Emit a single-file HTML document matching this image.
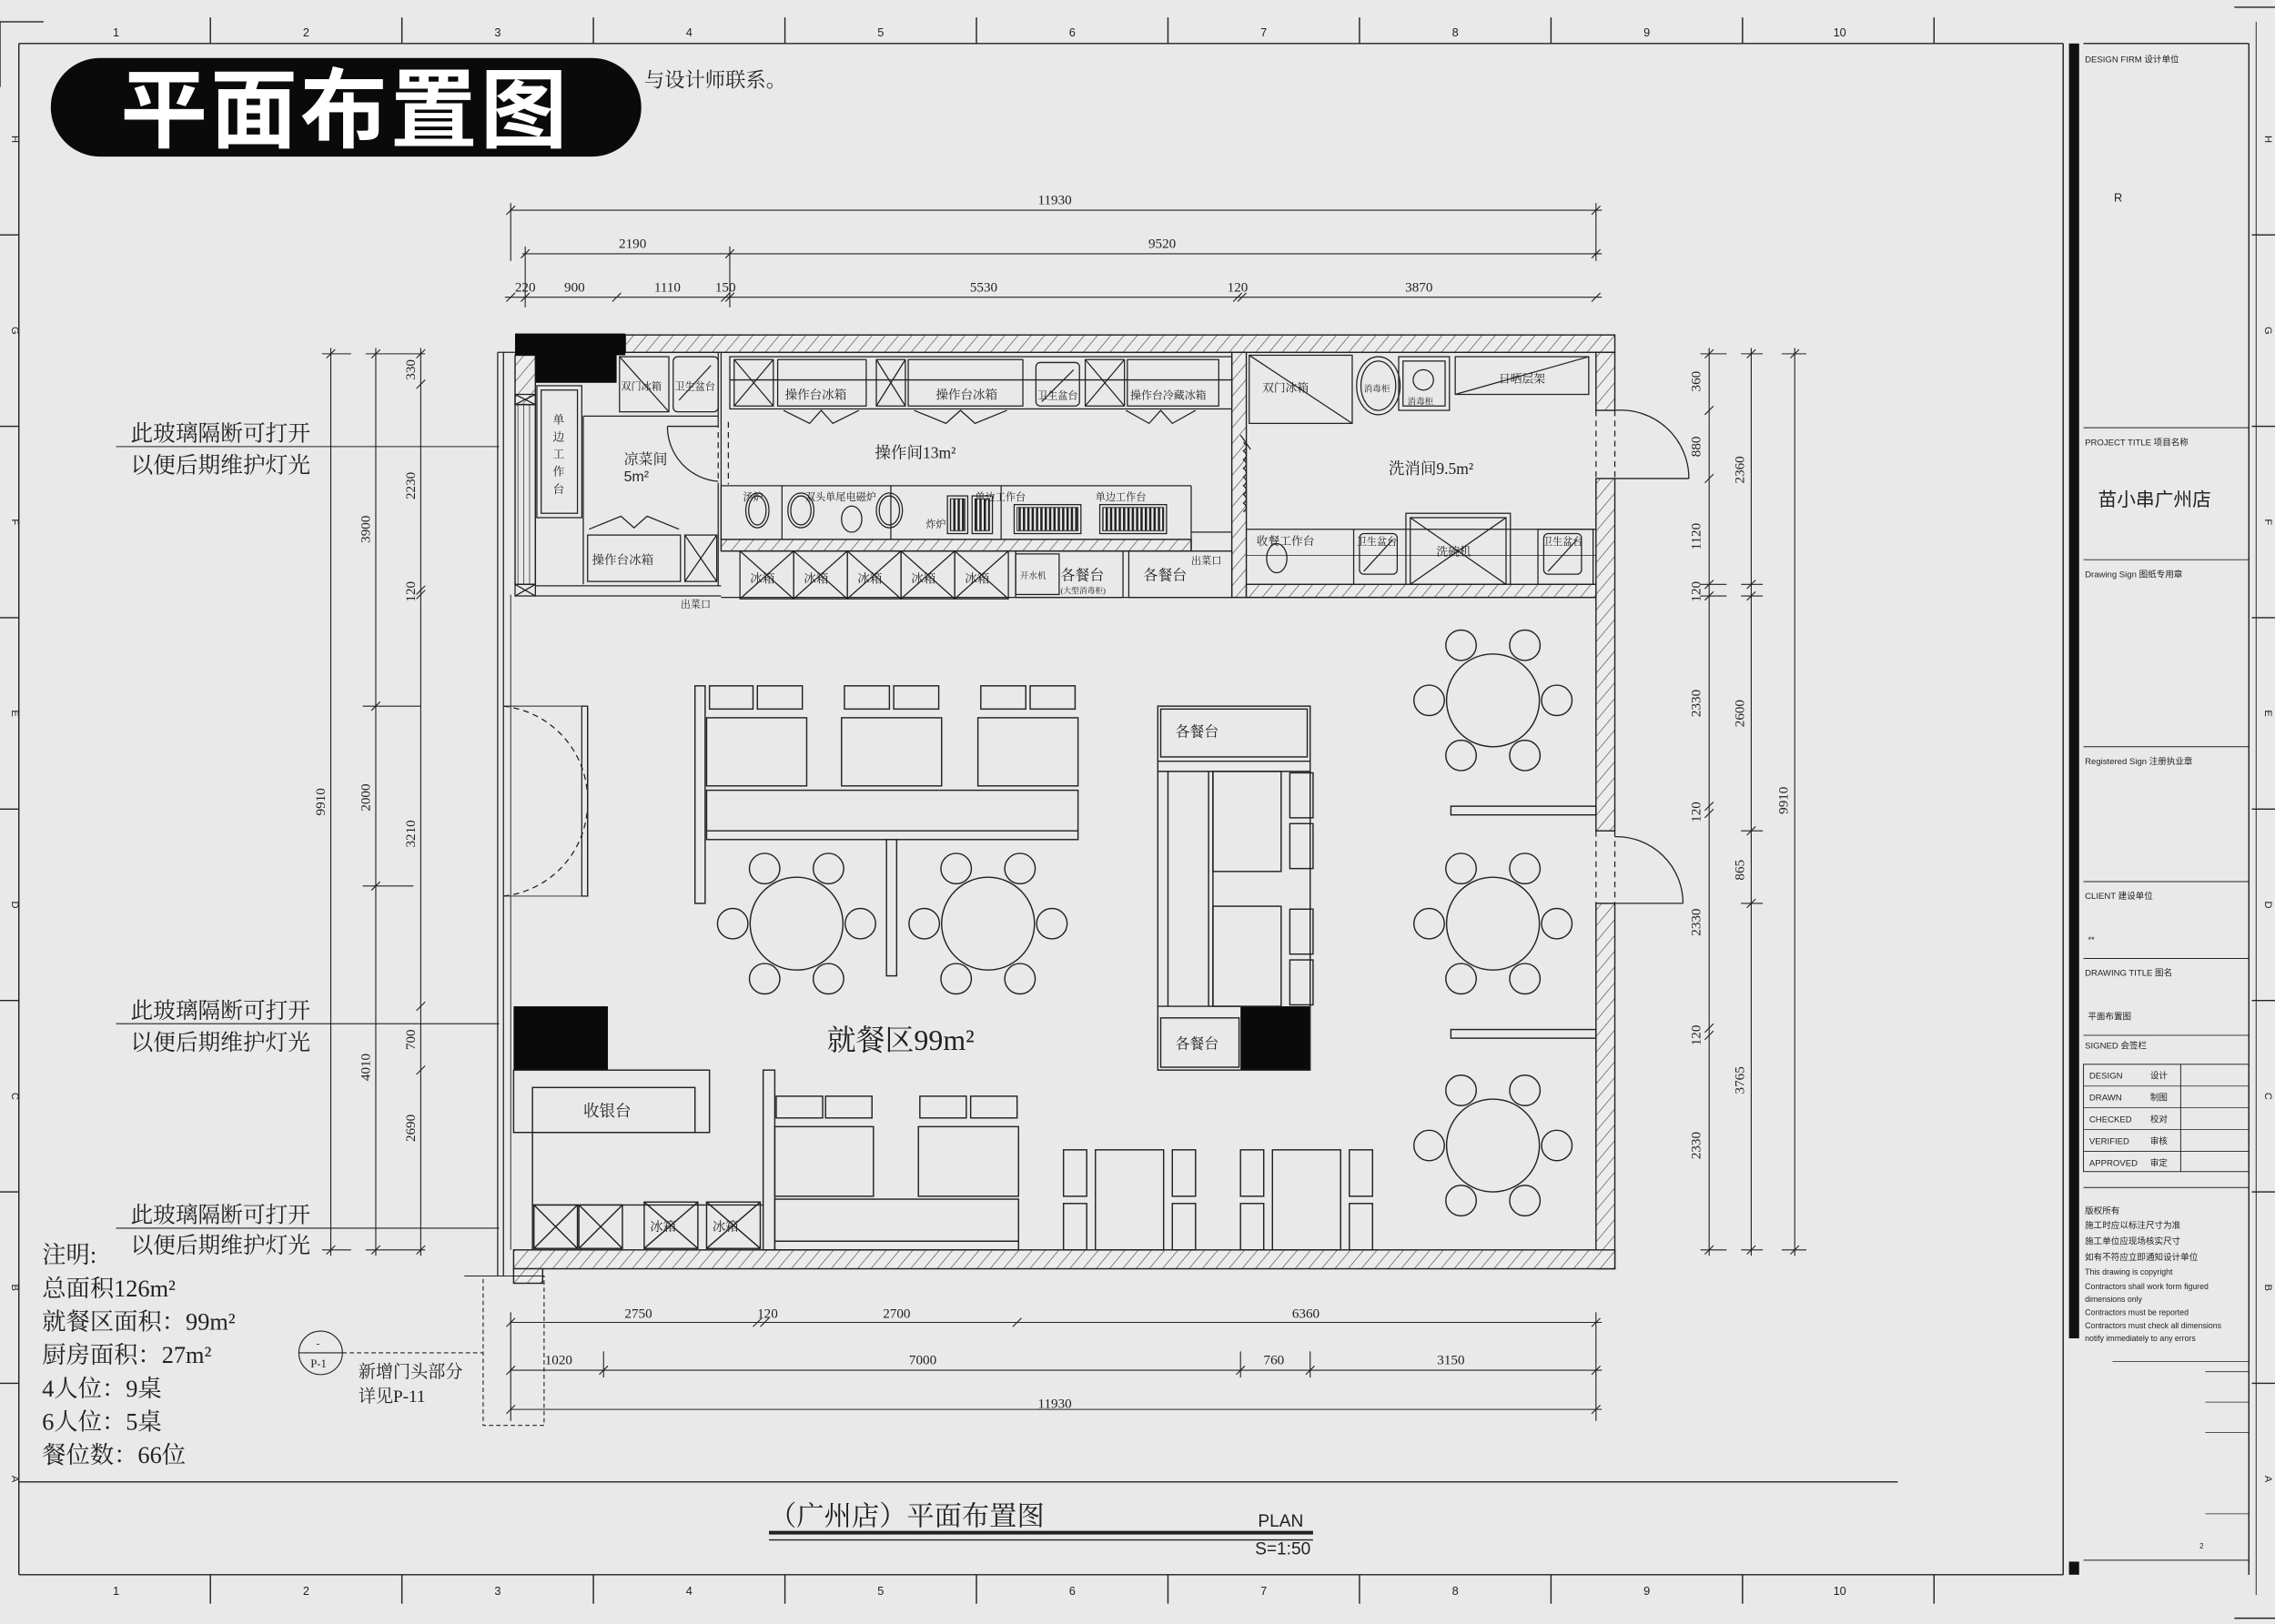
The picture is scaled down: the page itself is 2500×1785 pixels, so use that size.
<!DOCTYPE html>
<html><head><meta charset="utf-8"><style>
html,body{margin:0;padding:0;background:#e9e9e9;}
svg{display:block;}
.s{font-family:"Liberation Serif","Noto Serif CJK SC",serif;fill:#222;}
.a{font-family:"Liberation Sans","Noto Sans CJK SC",sans-serif;fill:#222;}
</style></head><body>
<svg width="2500" height="1785" viewBox="0 0 1568 1120" preserveAspectRatio="none" xmlns="http://www.w3.org/2000/svg">
<defs>
<pattern id="h" width="7" height="7" patternUnits="userSpaceOnUse" patternTransform="rotate(40)"><rect width="7" height="7" fill="#ececec"/><line x1="0" y1="0" x2="0" y2="7" stroke="#333" stroke-width="0.7"/></pattern>
<pattern id="v" width="4" height="10" patternUnits="userSpaceOnUse"><line x1="1" y1="0" x2="1" y2="10" stroke="#333" stroke-width="0.5"/></pattern>
<pattern id="g" width="3" height="10" patternUnits="userSpaceOnUse"><rect width="3" height="10" fill="#eee"/><rect width="1.6" height="10" fill="#222"/></pattern>
</defs>
<rect width="1568" height="1120" fill="#e9e9e9"/>
<g stroke="#222" fill="none" stroke-width="0.9">
<!-- frame -->
<line x1="13" y1="30" x2="1422" y2="30"/>
<line x1="13" y1="30" x2="13" y2="1086"/>
<line x1="13" y1="1086" x2="1422" y2="1086"/>
<line x1="0" y1="15" x2="30" y2="15"/><line x1="0" y1="15" x2="0" y2="60"/>
<g>
<line x1="145" y1="12" x2="145" y2="30"/><line x1="277" y1="12" x2="277" y2="30"/><line x1="409" y1="12" x2="409" y2="30"/><line x1="541" y1="12" x2="541" y2="30"/><line x1="673" y1="12" x2="673" y2="30"/><line x1="805" y1="12" x2="805" y2="30"/><line x1="937" y1="12" x2="937" y2="30"/><line x1="1069" y1="12" x2="1069" y2="30"/><line x1="1201" y1="12" x2="1201" y2="30"/><line x1="1333" y1="12" x2="1333" y2="30"/>
<line x1="145" y1="1086" x2="145" y2="1106"/><line x1="277" y1="1086" x2="277" y2="1106"/><line x1="409" y1="1086" x2="409" y2="1106"/><line x1="541" y1="1086" x2="541" y2="1106"/><line x1="673" y1="1086" x2="673" y2="1106"/><line x1="805" y1="1086" x2="805" y2="1106"/><line x1="937" y1="1086" x2="937" y2="1106"/><line x1="1069" y1="1086" x2="1069" y2="1106"/><line x1="1201" y1="1086" x2="1201" y2="1106"/><line x1="1333" y1="1086" x2="1333" y2="1106"/>
<line x1="0" y1="162" x2="13" y2="162"/><line x1="0" y1="294" x2="13" y2="294"/><line x1="0" y1="426" x2="13" y2="426"/><line x1="0" y1="558" x2="13" y2="558"/><line x1="0" y1="690" x2="13" y2="690"/><line x1="0" y1="822" x2="13" y2="822"/><line x1="0" y1="954" x2="13" y2="954"/>
<line x1="1552" y1="162" x2="1568" y2="162"/><line x1="1552" y1="294" x2="1568" y2="294"/><line x1="1552" y1="426" x2="1568" y2="426"/><line x1="1552" y1="558" x2="1568" y2="558"/><line x1="1552" y1="690" x2="1568" y2="690"/><line x1="1552" y1="822" x2="1568" y2="822"/><line x1="1552" y1="954" x2="1568" y2="954"/>
<line x1="1540" y1="5" x2="1568" y2="5"/><line x1="1540" y1="1116" x2="1568" y2="1116"/>
</g>
<line x1="13" y1="1022" x2="1308" y2="1022"/>
<!-- title block -->
<line x1="1422" y1="30" x2="1422" y2="1086"/>
<line x1="1436" y1="30" x2="1550" y2="30"/>
<line x1="1550" y1="30" x2="1550" y2="1086"/>
<line x1="1555" y1="15" x2="1555" y2="1100" stroke-width="0.6"/>
<line x1="1436" y1="295" x2="1550" y2="295" stroke-width="0.6"/>
<line x1="1436" y1="386" x2="1550" y2="386" stroke-width="0.6"/>
<line x1="1436" y1="515" x2="1550" y2="515" stroke-width="0.6"/>
<line x1="1436" y1="608" x2="1550" y2="608" stroke-width="0.6"/>
<line x1="1436" y1="661" x2="1550" y2="661" stroke-width="0.6"/>
<line x1="1436" y1="714" x2="1550" y2="714" stroke-width="0.6"/>
<rect x="1436" y="734" width="114" height="74" stroke-width="0.6"/>
<line x1="1436" y1="749" x2="1550" y2="749" stroke-width="0.5"/><line x1="1436" y1="764" x2="1550" y2="764" stroke-width="0.5"/><line x1="1436" y1="779" x2="1550" y2="779" stroke-width="0.5"/><line x1="1436" y1="794" x2="1550" y2="794" stroke-width="0.5"/>
<line x1="1503" y1="734" x2="1503" y2="808" stroke-width="0.6"/>
<line x1="1436" y1="819" x2="1550" y2="819" stroke-width="0.6"/>
<line x1="1436" y1="1076" x2="1550" y2="1076" stroke-width="0.6"/>
<line x1="1456" y1="939" x2="1550" y2="939" stroke-width="0.5"/><line x1="1520" y1="946" x2="1550" y2="946" stroke-width="0.5"/><line x1="1520" y1="967" x2="1550" y2="967" stroke-width="0.5"/><line x1="1520" y1="988" x2="1550" y2="988" stroke-width="0.5"/><line x1="1520" y1="1044" x2="1550" y2="1044" stroke-width="0.5"/>
</g>
<rect x="1426" y="30" width="7" height="893" fill="#111"/>
<rect x="1426" y="1077" width="7" height="9" fill="#111"/>
<g class="a" font-size="6">
<text x="1437" y="43">DESIGN FIRM  设计单位</text>
<text x="1457" y="139" font-size="8">R</text>
<text x="1437" y="307">PROJECT TITLE  项目名称</text>
<text x="1446" y="349" font-size="13">苗小串广州店</text>
<text x="1437" y="398">Drawing Sign  图纸专用章</text>
<text x="1437" y="527">Registered Sign  注册执业章</text>
<text x="1437" y="620">CLIENT  建设单位</text>
<text x="1439" y="650">**</text>
<text x="1437" y="673">DRAWING TITLE  图名</text>
<text x="1439" y="703">平面布置图</text>
<text x="1437" y="723">SIGNED  会签栏</text>
<text x="1440" y="744">DESIGN</text><text x="1482" y="744">设计</text>
<text x="1440" y="759">DRAWN</text><text x="1482" y="759">制图</text>
<text x="1440" y="774">CHECKED</text><text x="1482" y="774">校对</text>
<text x="1440" y="789">VERIFIED</text><text x="1482" y="789">审核</text>
<text x="1440" y="804">APPROVED</text><text x="1482" y="804">审定</text>
<text x="1437" y="837">版权所有</text>
<text x="1437" y="847">施工时应以标注尺寸为准</text>
<text x="1437" y="858">施工单位应现场核实尺寸</text>
<text x="1437" y="869">如有不符应立即通知设计单位</text>
<text x="1437" y="879" font-size="5.5">This drawing is copyright</text>
<text x="1437" y="889" font-size="5.5">Contractors shall work form figured</text>
<text x="1437" y="898" font-size="5.5">dimensions only</text>
<text x="1437" y="907" font-size="5.5">Contractors must be reported</text>
<text x="1437" y="916" font-size="5.5">Contractors must check all dimensions</text>
<text x="1437" y="925" font-size="5.5">notify immediately to any errors</text>
<text x="1516" y="1068" font-size="5">2</text>
</g>
<g class="a" font-size="8" text-anchor="middle">
<text x="80" y="25">1</text><text x="211" y="25">2</text><text x="343" y="25">3</text><text x="475" y="25">4</text><text x="607" y="25">5</text><text x="739" y="25">6</text><text x="871" y="25">7</text><text x="1003" y="25">8</text><text x="1135" y="25">9</text><text x="1268" y="25">10</text>
<text x="80" y="1100">1</text><text x="211" y="1100">2</text><text x="343" y="1100">3</text><text x="475" y="1100">4</text><text x="607" y="1100">5</text><text x="739" y="1100">6</text><text x="871" y="1100">7</text><text x="1003" y="1100">8</text><text x="1135" y="1100">9</text><text x="1268" y="1100">10</text>
</g>
<g class="a" font-size="7" text-anchor="middle">
<text transform="translate(8,96) rotate(90)">H</text><text transform="translate(8,228) rotate(90)">G</text><text transform="translate(8,360) rotate(90)">F</text><text transform="translate(8,492) rotate(90)">E</text><text transform="translate(8,624) rotate(90)">D</text><text transform="translate(8,756) rotate(90)">C</text><text transform="translate(8,888) rotate(90)">B</text><text transform="translate(8,1020) rotate(90)">A</text>
<text transform="translate(1561,96) rotate(90)">H</text><text transform="translate(1561,228) rotate(90)">G</text><text transform="translate(1561,360) rotate(90)">F</text><text transform="translate(1561,492) rotate(90)">E</text><text transform="translate(1561,624) rotate(90)">D</text><text transform="translate(1561,756) rotate(90)">C</text><text transform="translate(1561,888) rotate(90)">B</text><text transform="translate(1561,1020) rotate(90)">A</text>
</g>

<!-- title pill -->
<text class="s" x="444" y="60" font-size="14">与设计师联系。</text>
<rect x="35" y="40" width="407" height="68" rx="34" fill="#0a0a0a"/>
<text x="238" y="97" text-anchor="middle" font-family="'Noto Sans CJK SC','WenQuanYi Zen Hei',sans-serif" font-weight="bold" font-size="60" fill="#fff" letter-spacing="2">平面布置图</text>

<!-- walls -->
<g stroke="#222" stroke-width="0.9">
<rect x="431" y="231" width="682" height="12" fill="url(#h)"/>
<rect x="1100" y="243" width="13" height="40" fill="url(#h)"/>
<rect x="1100" y="330" width="13" height="243" fill="url(#h)"/>
<rect x="1100" y="623" width="13" height="252" fill="url(#h)"/>
<rect x="354" y="862" width="759" height="13" fill="url(#h)"/>
<rect x="849" y="243" width="10" height="169" fill="url(#h)"/>
<rect x="497" y="372" width="324" height="8" fill="url(#h)"/>
<rect x="859" y="403" width="241" height="9" fill="url(#h)"/>
<rect x="355" y="245" width="14" height="34" fill="url(#h)"/>
<rect x="355" y="279" width="14" height="124" fill="url(#v)"/>
<rect x="354" y="875" width="20" height="10" fill="url(#h)"/>
</g>
<rect x="355" y="230" width="76" height="15" fill="#0a0a0a"/>
<rect x="369" y="244" width="56" height="20" fill="#0a0a0a"/>
<rect x="354" y="694" width="65" height="44" fill="#0a0a0a"/>
<rect x="855" y="694" width="48" height="44" fill="#0a0a0a"/>
<g stroke="#222" fill="none" stroke-width="0.8">
<!-- door gaps right -->
<line x1="1100" y1="283" x2="1100" y2="330" stroke-dasharray="4,3"/><line x1="1113" y1="283" x2="1113" y2="330" stroke-dasharray="4,3"/>
<line x1="1100" y1="573" x2="1100" y2="623" stroke-dasharray="4,3"/><line x1="1113" y1="573" x2="1113" y2="623" stroke-dasharray="4,3"/>
<line x1="1113" y1="330" x2="1164" y2="330"/><path d="M1113,283 A47,47 0 0 1 1164,330"/>
<line x1="1113" y1="623" x2="1160" y2="623"/><path d="M1113,577 A46,46 0 0 1 1160,623"/>
<!-- glass left -->
<line x1="343" y1="243" x2="343" y2="880"/><line x1="347" y1="243" x2="347" y2="880"/><line x1="343" y1="243" x2="355" y2="243"/>
<line x1="352" y1="410" x2="352" y2="862" stroke-width="0.6"/>
<!-- left doors -->
<line x1="347" y1="487" x2="405" y2="487" stroke-width="0.6"/><line x1="347" y1="618" x2="405" y2="618" stroke-width="0.6"/>
<path d="M347,487 A65,65 0 0 1 405,552" stroke-dasharray="4,3"/><path d="M347,618 A65,65 0 0 0 405,552" stroke-dasharray="4,3"/>
<line x1="405" y1="487" x2="405" y2="552"/><line x1="405" y1="552" x2="405" y2="618"/>
<rect x="401" y="487" width="4" height="131"/>
<!-- left X boxes -->
<rect x="355" y="272" width="14" height="7"/><path d="M355,272 L369,279 M369,272 L355,279"/>
<rect x="355" y="403" width="14" height="8"/><path d="M355,403 L369,411 M369,403 L355,411"/>
<line x1="369" y1="404" x2="497" y2="404"/><line x1="369" y1="411" x2="497" y2="411"/>

<!-- cold room -->
<rect x="370" y="266" width="31" height="91"/><rect x="373" y="269" width="25" height="85"/>
<rect x="427" y="246" width="34" height="38"/><line x1="427" y1="246" x2="461" y2="284"/>
<rect x="464" y="246" width="31" height="38" rx="3"/><line x1="468" y1="276" x2="490" y2="252"/>
<line x1="402" y1="287" x2="495" y2="287"/><line x1="402" y1="287" x2="402" y2="403"/>
<line x1="495" y1="243" x2="495" y2="291"/><line x1="495" y1="334" x2="495" y2="404"/>
<line x1="495" y1="291" x2="495" y2="334" stroke-dasharray="4,3"/><line x1="502" y1="291" x2="502" y2="334" stroke-dasharray="4,3"/>
<line x1="460" y1="294" x2="495" y2="294"/><path d="M460,294 A38,38 0 0 0 495,332"/>
<rect x="405" y="369" width="64" height="32"/><rect x="472" y="369" width="22" height="32"/><path d="M472,369 L494,401 M494,369 L472,401"/>
<path d="M406,365 L428,356 L437,364 L446,356 L468,365"/>

<!-- op room top cabinets -->
<line x1="497" y1="243" x2="497" y2="372"/>
<rect x="503" y="246" width="346" height="36"/>
<line x1="503" y1="262" x2="849" y2="262"/>
<rect x="506" y="248" width="27" height="32"/><path d="M506,248 L533,280 M533,248 L506,280"/>
<rect x="536" y="248" width="61" height="32"/>
<rect x="604" y="248" width="20" height="32"/><path d="M604,248 L624,280 M624,248 L604,280"/>
<rect x="626" y="248" width="79" height="32"/>
<rect x="714" y="250" width="30" height="30" rx="3"/><line x1="718" y1="277" x2="740" y2="255"/>
<rect x="748" y="248" width="27" height="32"/><path d="M748,248 L775,280 M775,248 L748,280"/>
<rect x="777" y="248" width="63" height="32"/>
<path d="M540,283 L558,292 L566,283 L574,292 L592,283"/>
<path d="M630,283 L652,292 L662,283 L672,292 L694,283"/>
<path d="M776,283 L792,292 L800,283 L808,292 L824,283"/>
<!-- op room stove row -->
<line x1="497" y1="335" x2="821" y2="335"/><line x1="497" y1="335" x2="497" y2="372"/>
<line x1="539" y1="335" x2="539" y2="372"/><line x1="614" y1="335" x2="614" y2="372"/><line x1="690" y1="335" x2="690" y2="372"/>
<ellipse cx="522" cy="352" rx="8" ry="12"/><ellipse cx="522" cy="352" rx="6" ry="10"/>
<ellipse cx="552" cy="352" rx="9" ry="12"/><ellipse cx="552" cy="352" rx="7" ry="10"/>
<ellipse cx="587" cy="358" rx="7" ry="9"/><ellipse cx="613" cy="352" rx="9" ry="12"/><ellipse cx="613" cy="352" rx="7" ry="10"/>
<rect x="653" y="342" width="14" height="26"/><rect x="670" y="342" width="14" height="26"/>
<rect x="699" y="348" width="46" height="20"/><rect x="758" y="348" width="46" height="20"/>
<line x1="821" y1="335" x2="821" y2="380"/><line x1="821" y1="367" x2="849" y2="367"/>
<!-- fridges row -->
<line x1="497" y1="380" x2="849" y2="380"/><line x1="497" y1="412" x2="1100" y2="412"/>
<rect x="510" y="380" width="37" height="33"/><path d="M510,380 L547,413 M547,380 L510,413"/>
<rect x="547" y="380" width="37" height="33"/><path d="M547,380 L584,413 M584,380 L547,413"/>
<rect x="584" y="380" width="37" height="33"/><path d="M584,380 L621,413 M621,380 L584,413"/>
<rect x="621" y="380" width="37" height="33"/><path d="M621,380 L658,413 M658,380 L621,413"/>
<rect x="658" y="380" width="37" height="33"/><path d="M658,380 L695,413 M695,380 L658,413"/>
<rect x="700" y="382" width="30" height="28"/><rect x="700" y="380" width="74" height="32"/><rect x="778" y="380" width="71" height="32"/>
<!-- wash room -->
<rect x="861" y="245" width="71" height="47"/><line x1="861" y1="245" x2="932" y2="292"/>
<ellipse cx="950" cy="266" rx="15" ry="20"/><ellipse cx="950" cy="266" rx="12" ry="17"/>
<rect x="964" y="246" width="35" height="37"/><rect x="967" y="249" width="29" height="31"/><circle cx="981" cy="262" r="7"/>
<rect x="1003" y="246" width="92" height="26"/><line x1="1003" y1="272" x2="1095" y2="246"/>
<line x1="855" y1="300" x2="862" y2="310"/>
<path d="M857,305 q4,3 0,6 q4,3 0,6 q4,3 0,6 q4,3 0,6 q4,3 0,6 q4,3 0,6 q4,3 0,6 q4,3 0,6" />
<line x1="859" y1="365" x2="1100" y2="365"/><line x1="859" y1="383" x2="1100" y2="383" stroke-width="0.5"/>
<ellipse cx="880" cy="385" rx="7" ry="10"/>
<line x1="933" y1="365" x2="933" y2="403"/>
<rect x="937" y="368" width="26" height="28" rx="3"/><line x1="940" y1="394" x2="960" y2="372"/>
<rect x="969" y="354" width="72" height="49"/><rect x="972" y="357" width="66" height="46"/><path d="M972,357 L1038,403 M1038,357 L972,403"/>
<rect x="1060" y="365" width="38" height="38"/><rect x="1064" y="368" width="26" height="28" rx="3"/><line x1="1067" y1="394" x2="1087" y2="372"/>
</g>
<g fill="url(#g)" stroke="#222" stroke-width="0.6"><rect x="655" y="344" width="10" height="22"/><rect x="672" y="344" width="10" height="22"/><rect x="701" y="350" width="42" height="16"/><rect x="760" y="350" width="42" height="16"/></g>
<!-- kitchen text -->
<g class="s" font-size="8.5">
<text x="430" y="320" font-size="10">凉菜间</text><text x="430" y="332" font-size="10" class="a">5m²</text>
<text x="603" y="316" font-size="11">操作间13m²</text>
<text x="957" y="327" font-size="11">洗消间9.5m²</text>
<text x="381" y="292" font-size="8">单</text><text x="381" y="304" font-size="8">边</text><text x="381" y="316" font-size="8">工</text><text x="381" y="328" font-size="8">作</text><text x="381" y="340" font-size="8">台</text>
<text x="408" y="389">操作台冰箱</text>
<text x="428" y="269" font-size="7">双门冰箱</text><text x="465" y="269" font-size="7">卫生盆台</text>
<text x="541" y="275">操作台冰箱</text><text x="645" y="275">操作台冰箱</text><text x="715" y="275" font-size="7">卫生盆台</text><text x="779" y="275" font-size="7.5">操作台冷藏冰箱</text>
<text x="512" y="345" font-size="7">汤炉</text><text x="555" y="345" font-size="7">双头单尾电磁炉</text><text x="672" y="345" font-size="7">单边工作台</text><text x="755" y="345" font-size="7">单边工作台</text>
<text x="638" y="364" font-size="7">炸炉</text>
<text x="517" y="402">冰箱</text><text x="554" y="402">冰箱</text><text x="591" y="402">冰箱</text><text x="628" y="402">冰箱</text><text x="665" y="402">冰箱</text>
<text x="703" y="399" font-size="6">开水机</text><text x="731" y="400" font-size="10">各餐台</text><text x="788" y="400" font-size="10">各餐台</text>
<text x="731" y="409" font-size="5.5">(大型消毒柜)</text>
<text x="821" y="389" font-size="7">出菜口</text><text x="469" y="419" font-size="7">出菜口</text>
<text x="870" y="270" font-size="8">双门冰箱</text><text x="940" y="270" font-size="6">消毒柜</text><text x="970" y="279" font-size="6">消毒柜</text><text x="1033" y="264" font-size="8">日晒层架</text>
<text x="866" y="376" font-size="8">收餐工作台</text><text x="935" y="376" font-size="7">卫生盆台</text><text x="990" y="383" font-size="8">洗碗机</text><text x="1063" y="376" font-size="7">卫生盆台</text>
</g>

<!-- dining -->
<g stroke="#222" fill="none" stroke-width="0.9">
<rect x="479" y="473" width="7" height="150"/>
<rect x="489" y="473" width="30" height="16"/><rect x="522" y="473" width="31" height="16"/>
<rect x="582" y="473" width="31" height="16"/><rect x="616" y="473" width="31" height="16"/>
<rect x="676" y="473" width="31" height="16"/><rect x="710" y="473" width="31" height="16"/>
<rect x="487" y="495" width="69" height="47"/><rect x="580" y="495" width="69" height="47"/><rect x="674" y="495" width="69" height="47"/>
<rect x="487" y="545" width="256" height="34"/><line x1="487" y1="573" x2="743" y2="573"/>
<rect x="611" y="579" width="7" height="94"/>
<circle cx="549" cy="637" r="32"/><circle cx="681" cy="637" r="32"/>
<circle cx="527" cy="599" r="10.5"/><circle cx="571" cy="599" r="10.5"/><circle cx="505" cy="637" r="10.5"/><circle cx="593" cy="637" r="10.5"/><circle cx="527" cy="675" r="10.5"/><circle cx="571" cy="675" r="10.5"/>
<circle cx="659" cy="599" r="10.5"/><circle cx="703" cy="599" r="10.5"/><circle cx="637" cy="637" r="10.5"/><circle cx="725" cy="637" r="10.5"/><circle cx="659" cy="675" r="10.5"/><circle cx="703" cy="675" r="10.5"/>
<!-- right round tables -->
<circle cx="1029" cy="483" r="32"/><circle cx="1007" cy="445" r="10.5"/><circle cx="1051" cy="445" r="10.5"/><circle cx="985" cy="483" r="10.5"/><circle cx="1073" cy="483" r="10.5"/><circle cx="1007" cy="521" r="10.5"/><circle cx="1051" cy="521" r="10.5"/>
<circle cx="1029" cy="637" r="32"/><circle cx="1007" cy="599" r="10.5"/><circle cx="1051" cy="599" r="10.5"/><circle cx="985" cy="637" r="10.5"/><circle cx="1073" cy="637" r="10.5"/><circle cx="1007" cy="675" r="10.5"/><circle cx="1051" cy="675" r="10.5"/>
<circle cx="1029" cy="790" r="32"/><circle cx="1007" cy="752" r="10.5"/><circle cx="1051" cy="752" r="10.5"/><circle cx="985" cy="790" r="10.5"/><circle cx="1073" cy="790" r="10.5"/><circle cx="1007" cy="828" r="10.5"/><circle cx="1051" cy="828" r="10.5"/>
<rect x="1000" y="556" width="100" height="6"/><rect x="1000" y="710" width="100" height="6"/>
<!-- island -->
<rect x="798" y="487" width="105" height="251"/>
<rect x="800" y="489" width="101" height="33"/><line x1="798" y1="525" x2="903" y2="525"/><line x1="798" y1="532" x2="903" y2="532"/>
<line x1="805" y1="532" x2="805" y2="694"/><line x1="833" y1="532" x2="833" y2="694"/><line x1="836" y1="532" x2="836" y2="694"/>
<rect x="836" y="532" width="47" height="69"/><rect x="836" y="625" width="47" height="69"/>
<rect x="889" y="533" width="16" height="31"/><rect x="889" y="568" width="16" height="31"/><rect x="889" y="627" width="16" height="31"/><rect x="889" y="662" width="16" height="31"/>
<line x1="798" y1="694" x2="855" y2="694"/><rect x="800" y="702" width="54" height="34"/>
<!-- cashier -->
<rect x="354" y="738" width="135" height="43"/><rect x="367" y="750" width="112" height="31"/>
<line x1="367" y1="781" x2="367" y2="862"/>
<rect x="368" y="831" width="30" height="30"/><path d="M368,831 L398,861 M398,831 L368,861"/>
<rect x="399" y="831" width="30" height="30"/><path d="M399,831 L429,861 M429,831 L399,861"/>
<rect x="444" y="829" width="37" height="32"/><path d="M444,829 L481,861 M481,829 L444,861"/>
<rect x="487" y="829" width="37" height="32"/><path d="M487,829 L524,861 M524,829 L487,861"/>
<line x1="367" y1="831" x2="526" y2="831"/>
<rect x="526" y="738" width="8" height="124"/>
<rect x="535" y="756" width="32" height="15"/><rect x="569" y="756" width="32" height="15"/><rect x="634" y="756" width="32" height="15"/><rect x="669" y="756" width="32" height="15"/>
<rect x="534" y="777" width="68" height="48"/><rect x="633" y="777" width="69" height="48"/>
<rect x="534" y="827" width="168" height="35"/><line x1="534" y1="856" x2="702" y2="856"/>
<rect x="733" y="793" width="16" height="32"/><rect x="733" y="830" width="16" height="32"/><rect x="755" y="793" width="47" height="69"/><rect x="808" y="793" width="16" height="32"/><rect x="808" y="830" width="16" height="32"/>
<rect x="855" y="793" width="16" height="32"/><rect x="855" y="830" width="16" height="32"/><rect x="877" y="793" width="47" height="69"/><rect x="930" y="793" width="16" height="32"/><rect x="930" y="830" width="16" height="32"/>
</g>
<g class="s">
<text x="570" y="724" font-size="20">就餐区99m²</text>
<text x="810" y="508" font-size="10">各餐台</text><text x="810" y="723" font-size="10">各餐台</text>
<text x="402" y="770" font-size="11">收银台</text>
<text x="448" y="849" font-size="9">冰箱</text><text x="491" y="849" font-size="9">冰箱</text>
</g>

<!-- dimensions -->
<g stroke="#222" fill="none" stroke-width="0.7">
<line x1="352" y1="145" x2="1104" y2="145"/><line x1="352" y1="140" x2="352" y2="180"/><line x1="1100" y1="140" x2="1100" y2="180"/>
<line x1="360" y1="175" x2="1104" y2="175"/><line x1="362" y1="170" x2="362" y2="212"/><line x1="503" y1="170" x2="503" y2="212"/>
<line x1="348" y1="205" x2="1104" y2="205"/>
<path d="M349,148 l6,-6 M1097,148 l6,-6 M359,178 l6,-6 M500,178 l6,-6 M1097,178 l6,-6 M349,208 l6,-6 M359,208 l6,-6 M422,208 l6,-6 M497,208 l6,-6 M500,208 l6,-6 M850,208 l6,-6 M853,208 l6,-6 M1097,208 l6,-6"/>
<!-- left -->
<line x1="228" y1="240" x2="228" y2="866"/><line x1="259" y1="240" x2="259" y2="866"/><line x1="290" y1="240" x2="290" y2="866"/>
<line x1="222" y1="244" x2="242" y2="244"/><line x1="252" y1="244" x2="293" y2="244"/>
<line x1="222" y1="862" x2="242" y2="862"/><line x1="252" y1="862" x2="293" y2="862"/>
<line x1="250" y1="487" x2="290" y2="487"/><line x1="250" y1="611" x2="285" y2="611"/>
<line x1="80" y1="308" x2="344" y2="308"/><line x1="80" y1="706" x2="344" y2="706"/><line x1="80" y1="847" x2="344" y2="847"/>
<path d="M225,247 l6,-6 M256,247 l6,-6 M287,247 l6,-6 M287,268 l6,-6 M287,410 l6,-6 M287,413 l6,-6 M256,490 l6,-6 M256,614 l6,-6 M287,697 l6,-6 M287,741 l6,-6 M225,865 l6,-6 M256,865 l6,-6 M287,865 l6,-6"/>
<!-- right -->
<line x1="1178" y1="240" x2="1178" y2="866"/><line x1="1207" y1="240" x2="1207" y2="866"/><line x1="1237" y1="240" x2="1237" y2="866"/>
<line x1="1172" y1="244" x2="1190" y2="244"/><line x1="1200" y1="244" x2="1215" y2="244"/><line x1="1228" y1="244" x2="1245" y2="244"/>
<line x1="1172" y1="862" x2="1190" y2="862"/><line x1="1200" y1="862" x2="1215" y2="862"/><line x1="1228" y1="862" x2="1245" y2="862"/>
<line x1="1200" y1="573" x2="1215" y2="573"/><line x1="1200" y1="623" x2="1215" y2="623"/>
<line x1="1172" y1="403" x2="1190" y2="403"/><line x1="1172" y1="411" x2="1190" y2="411"/><line x1="1200" y1="403" x2="1215" y2="403"/><line x1="1200" y1="411" x2="1215" y2="411"/>
<path d="M1175,247 l6,-6 M1175,286 l6,-6 M1175,333 l6,-6 M1175,406 l6,-6 M1175,414 l6,-6 M1175,559 l6,-6 M1175,564 l6,-6 M1175,712 l6,-6 M1175,717 l6,-6 M1175,865 l6,-6 M1204,247 l6,-6 M1204,406 l6,-6 M1204,414 l6,-6 M1204,576 l6,-6 M1204,626 l6,-6 M1204,865 l6,-6 M1234,247 l6,-6 M1234,865 l6,-6"/>
<!-- bottom -->
<line x1="352" y1="912" x2="1104" y2="912"/><line x1="352" y1="945" x2="1104" y2="945"/><line x1="352" y1="972" x2="1104" y2="972"/>
<line x1="352" y1="905" x2="352" y2="980"/><line x1="1100" y1="905" x2="1100" y2="980"/>
<line x1="416" y1="932" x2="416" y2="950"/><line x1="855" y1="932" x2="855" y2="950"/><line x1="903" y1="932" x2="903" y2="950"/>
<path d="M349,915 l6,-6 M519,915 l6,-6 M524,915 l6,-6 M698,915 l6,-6 M1097,915 l6,-6 M349,948 l6,-6 M413,948 l6,-6 M852,948 l6,-6 M900,948 l6,-6 M1097,948 l6,-6 M349,975 l6,-6 M1097,975 l6,-6"/>
<rect x="333" y="880" width="42" height="103" stroke-dasharray="3,2"/>
<line x1="320" y1="880" x2="375" y2="880"/>
<circle cx="221" cy="933" r="15"/><line x1="206" y1="933" x2="236" y2="933"/>
<line x1="236" y1="933" x2="333" y2="933" stroke-dasharray="3,2"/>
<!-- bottom title underline -->
<line x1="530" y1="1057" x2="905" y2="1057" stroke-width="2.5"/><line x1="530" y1="1062" x2="905" y2="1062" stroke-width="0.8"/>
</g>
<g class="s" font-size="9.5" text-anchor="middle">
<text x="727" y="141">11930</text><text x="436" y="171">2190</text><text x="801" y="171">9520</text>
<text x="362" y="201">220</text><text x="396" y="201">900</text><text x="460" y="201">1110</text><text x="500" y="201">150</text><text x="678" y="201">5530</text><text x="853" y="201">120</text><text x="978" y="201">3870</text>
<text x="440" y="909">2750</text><text x="529" y="909">120</text><text x="618" y="909">2700</text><text x="900" y="909">6360</text>
<text x="385" y="941">1020</text><text x="636" y="941">7000</text><text x="878" y="941">760</text><text x="1000" y="941">3150</text>
<text x="727" y="971">11930</text>
<text transform="translate(224,553) rotate(-90)">9910</text>
<text transform="translate(255,365) rotate(-90)">3900</text><text transform="translate(255,550) rotate(-90)">2000</text><text transform="translate(255,736) rotate(-90)">4010</text>
<text transform="translate(286,255) rotate(-90)">330</text><text transform="translate(286,335) rotate(-90)">2230</text><text transform="translate(286,408) rotate(-90)">120</text><text transform="translate(286,575) rotate(-90)">3210</text><text transform="translate(286,717) rotate(-90)">700</text><text transform="translate(286,778) rotate(-90)">2690</text>
<text transform="translate(1172,263) rotate(-90)">360</text><text transform="translate(1172,308) rotate(-90)">880</text><text transform="translate(1172,370) rotate(-90)">1120</text><text transform="translate(1172,408) rotate(-90)">120</text><text transform="translate(1172,485) rotate(-90)">2330</text><text transform="translate(1172,560) rotate(-90)">120</text><text transform="translate(1172,636) rotate(-90)">2330</text><text transform="translate(1172,714) rotate(-90)">120</text><text transform="translate(1172,790) rotate(-90)">2330</text>
<text transform="translate(1202,324) rotate(-90)">2360</text><text transform="translate(1202,492) rotate(-90)">2600</text><text transform="translate(1202,600) rotate(-90)">865</text><text transform="translate(1202,745) rotate(-90)">3765</text>
<text transform="translate(1232,552) rotate(-90)">9910</text>
</g>
<g class="s" font-size="15.5">
<text x="90" y="304">此玻璃隔断可打开</text><text x="90" y="326">以便后期维护灯光</text>
<text x="90" y="702">此玻璃隔断可打开</text><text x="90" y="724">以便后期维护灯光</text>
<text x="90" y="843">此玻璃隔断可打开</text><text x="90" y="864">以便后期维护灯光</text>
<text x="29" y="871" font-size="16.5">注明:</text>
<text x="29" y="894" font-size="16.5">总面积126m²</text>
<text x="29" y="917" font-size="16.5">就餐区面积：99m²</text>
<text x="29" y="940" font-size="16.5">厨房面积：27m²</text>
<text x="29" y="963" font-size="16.5">4人位：9桌</text>
<text x="29" y="986" font-size="16.5">6人位：5桌</text>
<text x="29" y="1009" font-size="16.5">餐位数：66位</text>
<text x="247" y="950" font-size="12">新增门头部分</text><text x="247" y="967" font-size="12">详见P-11</text>
<text x="218" y="929" font-size="7">-</text><text x="214" y="943" font-size="8">P-1</text>
<text x="530" y="1052" font-size="19">（广州店）平面布置图</text>
</g>
<text class="a" x="867" y="1053" font-size="12">PLAN</text>
<text class="a" x="865" y="1072" font-size="12">S=1:50</text>
</svg>
</body></html>
